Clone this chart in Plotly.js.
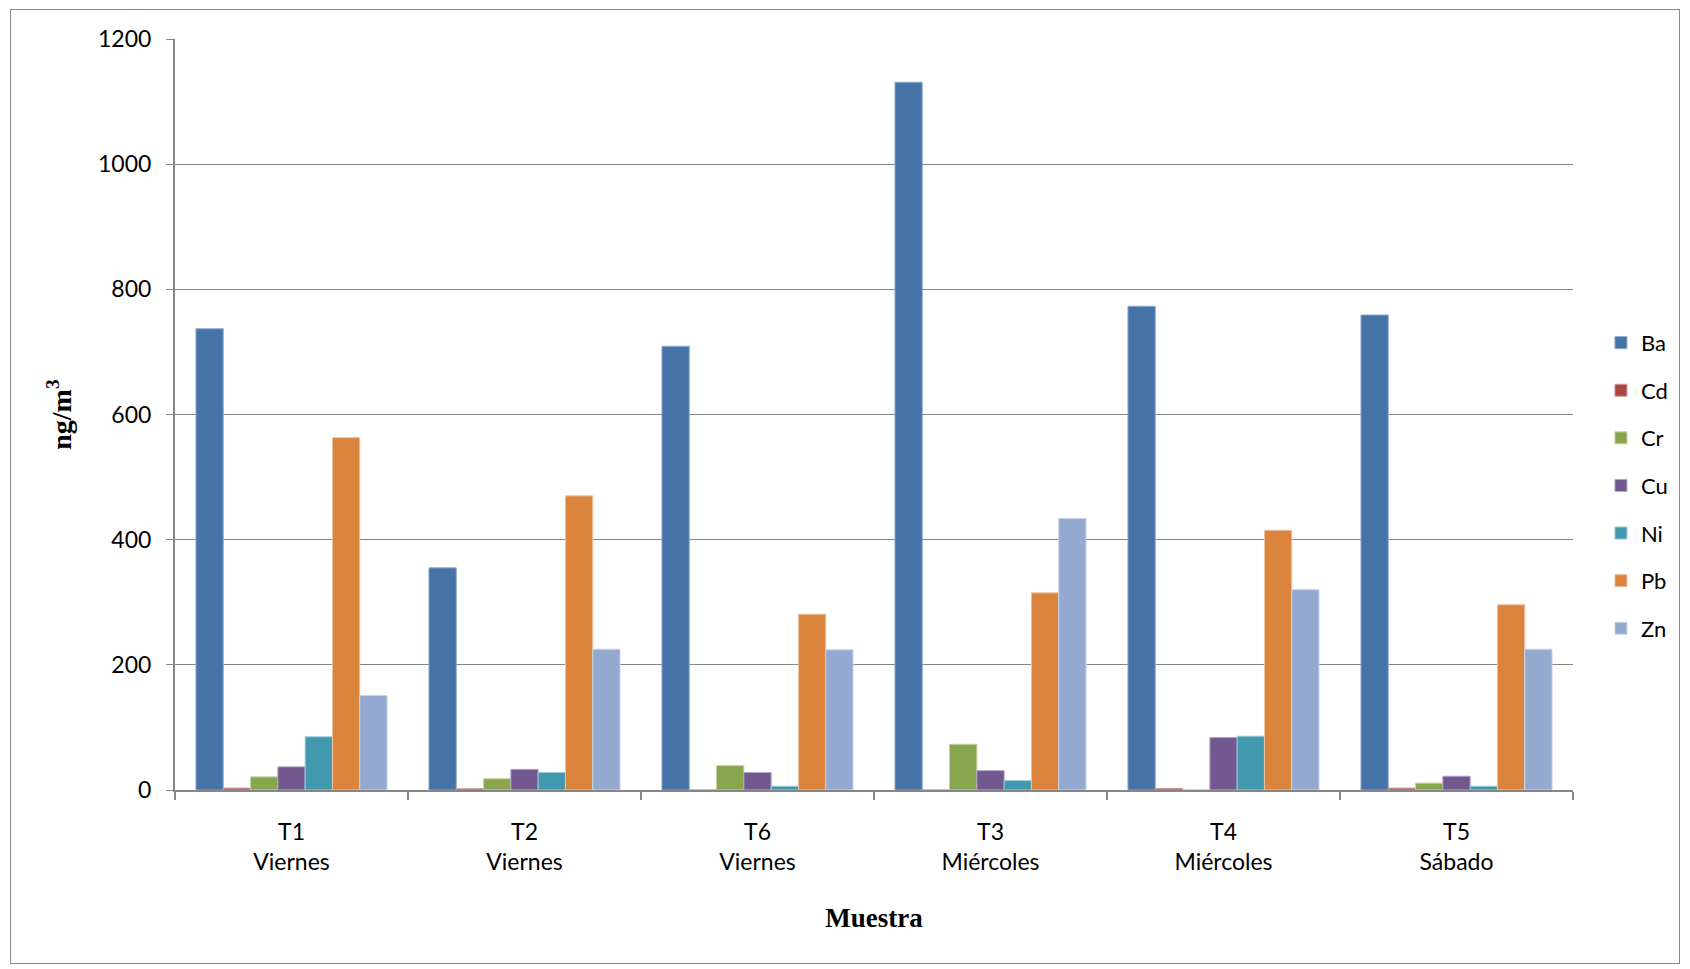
<!DOCTYPE html>
<html>
<head>
<meta charset="utf-8">
<script src="https://cdn.plot.ly/plotly-3.0.1.min.js"></script>
<style>
html,body{margin:0;padding:0;background:#fff;}
#chart{width:1690px;height:969px;}
#frame{position:absolute;left:10px;top:9px;width:1670px;height:955px;border:1.5px solid #8c8c8c;pointer-events:none;box-sizing:border-box;}
</style>
</head>
<body>
<div id="chart"></div>
<div id="frame"></div>
<script>
const categories = ["T1<br>Viernes","T2<br>Viernes","T6<br>Viernes","T3<br>Miércoles","T4<br>Miércoles","T5<br>Sábado"];
const Ba = [737, 355, 709, 1131, 773, 759];
const Cd = [3, 2, 0, 0, 2.5, 3];
const Cr = [21, 18, 39, 73, 0, 11];
const Cu = [37, 33, 28, 31, 84, 22];
const Ni = [85, 28, 6, 15, 86, 6];
const Pb = [563, 470, 281, 315, 415, 296];
const Zn = [151, 225, 224, 434, 320, 225];

const series = [
  {name:"Ba", y:Ba, color:"#4572A7", edge:"#8fa9cc"},
  {name:"Cd", y:Cd, color:"#AA4643", edge:"#d59896"},
  {name:"Cr", y:Cr, color:"#89A54E", edge:"#c3d3a3"},
  {name:"Cu", y:Cu, color:"#71588F", edge:"#b4a6c6"},
  {name:"Ni", y:Ni, color:"#4198AF", edge:"#9ccbd8"},
  {name:"Pb", y:Pb, color:"#DB843D", edge:"#eec29f"},
  {name:"Zn", y:Zn, color:"#93A9CF", edge:"#c9d4e8"}
];

const traces = series.map(s => ({
  type:"bar", name:s.name, x:categories, y:s.y, legendgroup:s.name,
  marker:{color:s.color, line:{color:s.edge, width:1}},
  hoverinfo:"x+y+name"
}));

const FONT = "Lato, 'Open Sans', sans-serif";
const SERIF = "'Liberation Serif', 'Times New Roman', serif";

const layout = {
  width:1690, height:969,
  margin:{l:175, r:117, t:39, b:179, pad:0},
  paper_bgcolor:"#fff", plot_bgcolor:"#fff",
  font:{family:FONT, size:23, color:"#000"},
  bargap:0.18, bargroupgap:0, barmode:"group",
  showlegend:true,
  legend:{x:1.02, xanchor:"left", y:0.405, yanchor:"middle", font:{size:22}, tracegroupgap:16, traceorder:"grouped", itemwidth:30},
  xaxis:{
    type:"category", showgrid:false, showline:true, linecolor:"#868686", linewidth:2,
    ticks:"outside", tickson:"boundaries", ticklen:8, tickcolor:"#868686", tickwidth:2,
    ticklabelstandoff:20,
    tickfont:{size:23, family:FONT},
    title:{text:"<b>Muestra</b>", font:{family:SERIF, size:27, color:"#000"}, standoff:35}
  },
  yaxis:{
    range:[0,1200], tickvals:[0,200,400,600,800,1000,1200], ticktext:["0","200","400","600","800","1000","1200"],
    showgrid:true, gridcolor:"#868686", gridwidth:1, zeroline:false,
    showline:true, linecolor:"#868686", linewidth:2,
    ticks:"outside", ticklen:7, tickcolor:"#868686", tickwidth:1,
    ticklabelstandoff:10,
    tickfont:{size:23, family:FONT},
    title:{text:"<b>ng/m<sup>3</sup></b>", font:{family:SERIF, size:28, color:"#000"}, standoff:18}
  }
};

Plotly.newPlot("chart", traces, layout, {displayModeBar:false, staticPlot:true});
</script>
</body>
</html>
